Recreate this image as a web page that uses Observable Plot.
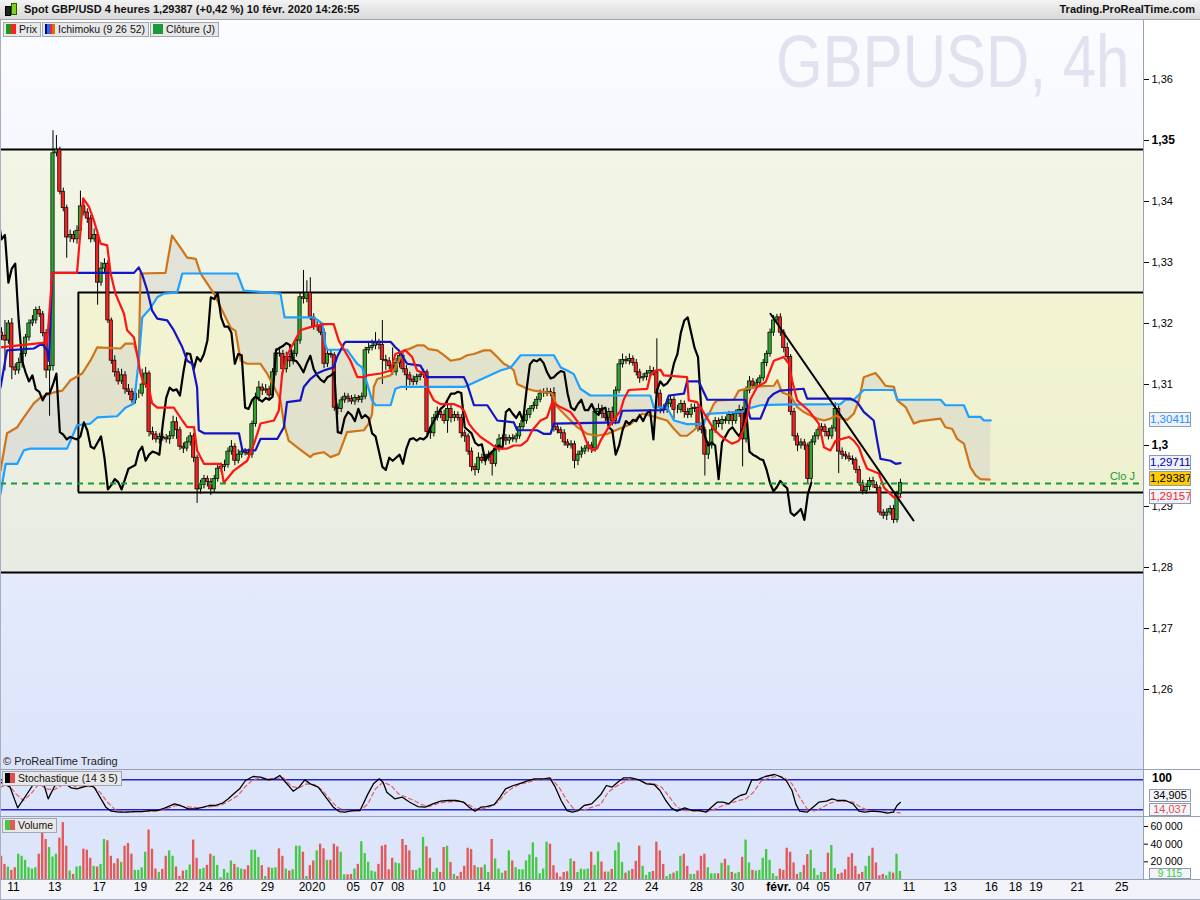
<!DOCTYPE html>
<html><head><meta charset="utf-8">
<script src="https://cdn.jsdelivr.net/npm/d3@7"></script>
<script src="https://cdn.jsdelivr.net/npm/@observablehq/plot@0.6"></script>
<style>
body{margin:0;background:#fff;font-family:"Liberation Sans",Arial,sans-serif;}
#root{position:relative;width:1200px;height:900px;overflow:hidden;}
#root svg{position:absolute;left:0;}
</style></head><body><div id="root"></div>
<script>
// ---------- DATA ----------
const firstOpen = 1.3185;
const closes = [
1.3180,1.3172,1.3200,1.3128,1.3123,1.3135,1.3150,1.3177,1.3200,1.3205,
1.3222,1.3215,1.3184,1.3123,1.3130,1.3479,1.3485,1.3416,1.3389,1.3341,
1.3345,1.3338,1.3352,1.3392,1.3382,1.3372,1.3338,1.3345,1.3267,1.3290,
1.3298,1.3205,1.3139,1.3120,1.3105,1.3115,1.3092,1.3088,1.3074,1.3085,
1.3085,1.3100,1.3118,1.3022,1.3018,1.3010,1.3014,1.3012,1.3010,1.3015,
1.3038,1.3025,1.2998,1.2995,1.3005,1.3015,1.2980,1.2928,1.2935,1.2945,
1.2940,1.2928,1.2945,1.2962,1.2965,1.2968,1.2990,1.2998,1.2975,1.2985,
1.2990,1.2988,1.2985,1.3035,1.3078,1.3095,1.3090,1.3092,1.3082,1.3120,
1.3151,1.3150,1.3125,1.3145,1.3138,1.3150,1.3172,1.3243,1.3240,1.3250,
1.3210,1.3195,1.3195,1.3185,1.3134,1.3150,1.3148,1.3062,1.3060,1.3074,
1.3080,1.3076,1.3072,1.3078,1.3075,1.3080,1.3156,1.3160,1.3163,1.3168,
1.3165,1.3140,1.3138,1.3130,1.3120,1.3135,1.3147,1.3125,1.3115,1.3108,
1.3104,1.3112,1.3115,1.3120,1.3022,1.3020,1.3045,1.3055,1.3050,1.3040,
1.3060,1.3045,1.3050,1.3045,1.3020,1.3015,1.2990,1.2965,1.2960,1.2980,
1.2975,1.2980,1.2985,1.2970,1.2995,1.3010,1.3012,1.3008,1.3012,1.3010,
1.3015,1.3030,1.3040,1.3050,1.3060,1.3065,1.3075,1.3085,1.3085,1.3088,
1.3086,1.3030,1.3025,1.3020,1.3005,1.3000,1.3002,1.2975,1.2985,1.2990,
1.2995,1.3000,1.2995,1.3055,1.3060,1.3052,1.3045,1.3055,1.3040,1.3090,
1.3133,1.3140,1.3138,1.3142,1.3135,1.3120,1.3110,1.3112,1.3118,1.3122,
1.3120,1.3085,1.3062,1.3058,1.3068,1.3075,1.3058,1.3058,1.3068,1.3055,
1.3050,1.3060,1.3062,1.3030,1.3025,1.2985,1.3000,1.3025,1.3040,1.3035,
1.3042,1.3040,1.3050,1.3040,1.3052,1.3058,1.3010,1.3090,1.3105,1.3098,
1.3102,1.3110,1.3135,1.3150,1.3185,1.3205,1.3210,1.3185,1.3160,1.3145,
1.3055,1.3015,1.3000,1.3005,1.3000,1.2945,1.3005,1.3015,1.3025,1.3030,
1.3022,1.3015,1.3028,1.3060,1.2990,1.2985,1.2982,1.2978,1.2976,1.2960,
1.2938,1.2925,1.2932,1.2942,1.2935,1.2930,1.2890,1.2885,1.2890,1.2896,
1.2878,1.2920,1.29387];
// wick lengths above / below the body, in pips
const wickUp = [
8,25,5,8,6,8,6,5,6,8, 5,6,5,6,8,37,23,4,6,5, 8,6,8,25,8,6,5,10,8,10,
8,5,4,8,6,10,6,8,5,8, 6,25,10,4,8,5,6,5,6,8, 10,8,5,6,8,6,5,4,8,6,
5,6,6,8,6,8,6,10,5,8, 6,5,6,5,8,10,6,8,5,6, 8,10,6,8,5,6,5,7,44,20,
25,6,8,5,6,8,6,4,6,5, 6,5,6,5,4,6,5,8,10,17, 6,40,8,6,30,8,6,5,6,5,
6,5,6,5,4,8,6,8,6,8, 15,8,6,5,6,5,4,6,5,8, 6,5,6,5,6,8,5,6,5,6,
5,6,5,8,5,6,5,6,8,6, 5,9,6,5,6,5,6,5,6,8, 5,6,5,6,8,6,5,6,8,6,
8,10,6,8,5,6,5,6,5,8, 6,55,6,5,8,6,5,8,6,5, 6,8,6,5,6,5,6,8,6,5,
6,5,6,5,6,8,5,6,8,5, 6,5,6,5,6,8,5,6,5,8, 4,6,5,6,5,4,5,6,5,6,
5,6,5,10,5,6,5,6,5,4, 6,5,6,5,6,5,4,5,6,5, 6,5,6];
const wickDn = [
8,50,6,20,8,6,8,5,6,5, 6,5,6,13,75,8,6,5,6,34, 8,6,8,5,6,8,6,5,37,6,
8,5,6,8,6,5,8,6,5,6, 8,5,6,8,10,6,8,5,6,8, 5,15,6,8,5,6,8,23,8,6,
8,10,6,5,6,8,5,6,8,5, 6,5,8,6,5,6,8,5,6,5, 6,5,8,6,10,6,5,6,8,6,
5,6,8,5,8,6,5,6,10,6, 5,6,5,6,5,6,5,6,5,6, 8,40,15,6,5,6,8,6,25,10,
6,5,6,5,8,10,6,5,6,5, 20,8,6,5,8,10,6,8,10,6, 5,8,6,20,5,6,5,8,6,5,
6,5,6,5,6,5,6,5,6,5, 6,8,6,10,6,5,6,13,8,6, 5,6,8,6,5,8,6,5,8,6,
5,6,5,6,5,6,8,5,6,5, 6,8,10,6,5,6,15,6,5,10, 6,5,6,8,6,35,8,6,5,6,
10,5,6,8,5,6,45,6,5,6, 8,6,5,6,5,6,5,6,8,5, 6,8,10,6,8,7,6,5,6,5,
8,6,5,6,36,8,6,5,8,6, 5,6,5,6,5,6,5,6,8,5, 6,5,6];
const volumes = [
26300,17100,14100,10300,13300,28600,26300,21700,13300,11800,
13300,28600,54100,45300,36200,25500,28600,46900,64400,37700,
9500,5700,14100,14900,34300,33100,24000,14900,14100,17100,
45300,43800,26300,17900,23200,19400,37700,40800,28600,10300,
10300,13300,30900,56000,34300,11800,8000,11400,26300,32400,
26300,14100,3400,9500,10300,16400,44600,24000,11400,12600,
16000,28600,26300,16000,1900,11400,7200,21000,17100,13300,
11800,11000,15600,33100,33100,24800,15600,3400,13300,12600,
13300,34700,26300,11800,9500,11000,37700,37700,30900,3400,
15600,21000,32400,40000,34700,21700,21700,40000,37000,30900,
5300,5300,5700,11800,17100,42700,29300,19400,9500,8400,
17100,37700,38900,11000,24000,18700,17900,45300,38500,32400,
10300,10300,12600,47600,37000,24000,8000,12600,8000,36200,
37700,19400,5700,3400,8000,14900,35400,33900,15600,13300,
13300,16400,8000,45300,23200,11800,7200,9500,32400,21000,
13300,11000,11000,21000,27800,41500,24800,6500,11800,42300,
40000,15600,7200,2700,8000,8800,23200,20200,8000,11800,
11000,11800,30900,16000,
31200,19800,8400,8400,11400,32400,41500,19400,7200,9500,
11400,20600,37700,14900,4600,8000,9100,42300,32400,17100,
3400,5700,7200,9100,26300,28600,14900,5700,5700,9500,
26300,28600,13300,6500,6500,6500,18300,22900,15600,8000,
6500,8000,25100,44600,18700,10300,9500,10300,24000,33900,
21700,6500,3400,11800,10300,35400,30900,18700,5700,8000,
16000,28200,33100,12200,4600,8000,8000,29700,38500,12200,
5700,7200,11000,25100,29300,14900,5700,8000,14900,26300,
35400,18700,4200,5700,4200,8400,7200,28600,9115];
// Ichimoku lines: [bar, price]
const tenkan = [[-0.3,1.3161],[13.3,1.3169],[14.8,1.3283],[22,1.3283],[23.8,1.3405],[25.5,1.3391],[26.9,1.3369],[28.9,1.3331],[30.8,1.3328],[31.8,1.3282],[33.2,1.3249],[35.7,1.3216],[36.6,1.3189],[38.6,1.3177],[39.5,1.3151],[40.5,1.3118],[41.5,1.3102],[42.9,1.3095],[43.9,1.3069],[45.4,1.3062],[50.2,1.3062],[52.7,1.3041],[54.1,1.3030],[56.1,1.3030],[57,1.2992],[59,1.2970],[63.8,1.2970],[64.8,1.2939],[67.7,1.2959],[71.6,1.2975],[73.6,1.3003],[75.5,1.3036],[79.4,1.3041],[80.8,1.3057],[81.8,1.3118],[83.2,1.3148],[87.1,1.3189],[90,1.3194],[93.9,1.3199],[96.8,1.3199],[98.3,1.3172],[101.7,1.3139],[103.7,1.3112],[105.6,1.3112],[106.6,1.3115],[110.5,1.3118],[113.4,1.3123],[114.8,1.3150],[117.7,1.3156],[119.7,1.3145],[121.1,1.3123],[123.1,1.3118],[124.5,1.3090],[126,1.3074],[127.9,1.3068],[131.8,1.3068],[133.8,1.3063],[134.8,1.3057],[136.2,1.3036],[137.7,1.3025],[139.6,1.3014],[142.5,1.3003],[144.5,1.2995],[147.4,1.2995],[149.3,1.3000],[151.3,1.3000],[153.2,1.3008],[154.7,1.3025],[157.1,1.3041],[159,1.3046],[160.5,1.3071],[162.9,1.3063],[165.8,1.3055],[168.7,1.3033],[170.7,1.3003],[172.1,1.2992],[173.6,1.2995],[174.6,1.3008],[177.5,1.3035],[180.4,1.3057],[181.4,1.3076],[182.8,1.3091],[188.2,1.3093],[189.1,1.3115],[190.6,1.3123],[192.1,1.3124],[193,1.3115],[199.8,1.3112],[200.3,1.3074],[202.7,1.3071],[203.7,1.3063],[205.7,1.3044],[207.6,1.3027],[209.5,1.3016],[211.5,1.3008],[212.9,1.3003],[214.9,1.3008],[216.3,1.3027],[217.3,1.3046],[218.3,1.3076],[220.2,1.3096],[222.7,1.3104],[225.1,1.3139],[228,1.3145],[229.5,1.3134],[230.4,1.3107],[231.9,1.3074],[235.3,1.3057],[238.2,1.3036],[239.7,1.2997],[241.6,1.2992],[243.1,1.3008],[247,1.3014],[248.4,1.3008],[249.9,1.2997],[251.3,1.2975],[252.3,1.2962],[255.7,1.2954],[257.2,1.2931],[260.1,1.2915],[262,1.29157]];
const kijun = [[-0.3,1.3095],[1.6,1.3156],[9.4,1.3159],[11.8,1.3167],[13.3,1.3156],[13.8,1.3139],[14.8,1.3283],[38.6,1.3283],[40,1.3292],[41,1.3280],[42.5,1.3254],[43.9,1.3221],[45.4,1.3208],[48.3,1.3205],[50.2,1.3189],[52.7,1.3161],[54.1,1.3139],[55.6,1.3134],[57,1.3095],[57.5,1.3025],[59,1.3020],[69.2,1.3020],[70.2,1.2992],[74,1.2992],[75.5,1.3011],[80.4,1.3011],[82.3,1.3030],[83.2,1.3071],[87.1,1.3074],[88.1,1.3096],[90,1.3109],[92,1.3118],[93.9,1.3123],[96.8,1.3128],[97.8,1.3145],[99.8,1.3167],[100.3,1.3170],[113.4,1.3170],[114.8,1.3161],[115.8,1.3156],[118.2,1.3134],[122.1,1.3131],[124,1.3112],[134.8,1.3112],[135.7,1.3101],[137.7,1.3066],[141.6,1.3066],[144.5,1.3041],[149.3,1.3038],[150.3,1.3025],[156.1,1.3025],[158.1,1.3019],[160,1.3019],[161,1.3036],[179.9,1.3038],[180.9,1.3057],[193,1.3058],[194.5,1.3082],[198.9,1.3085],[199.8,1.3105],[203.2,1.3105],[205.7,1.3075],[216.8,1.3075],[218.3,1.3044],[221.2,1.3044],[223.6,1.3077],[225.1,1.3085],[227,1.3090],[233.8,1.3093],[234.8,1.3077],[247.4,1.3077],[249.4,1.3071],[251.3,1.3055],[254.2,1.3041],[255.2,1.3008],[256.2,1.2978],[259.1,1.2975],[260.6,1.2970],[262,1.29711]];
const senkouA = [[-0.3,1.2959],[1.6,1.3020],[4.6,1.3030],[6.5,1.3046],[9.4,1.3069],[11.4,1.3079],[15.2,1.3087],[17.7,1.3090],[20.1,1.3107],[23.5,1.3118],[25.9,1.3139],[27.9,1.3161],[34.7,1.3159],[36.1,1.3167],[38.6,1.3167],[40,1.3139],[40.5,1.3282],[47.8,1.3283],[49.7,1.3344],[52.7,1.3320],[54.1,1.3308],[56.6,1.3306],[58,1.3282],[61.9,1.3249],[66.8,1.3193],[68.2,1.3188],[69.7,1.3139],[71.6,1.3134],[75.5,1.3134],[77.4,1.3118],[80.4,1.3085],[81.3,1.3074],[82.3,1.3036],[83.7,1.3008],[86.2,1.2997],[90,1.2981],[91,1.2986],[93.9,1.2989],[95.9,1.2981],[98.3,1.2986],[99.8,1.3008],[100.7,1.3022],[105.6,1.3025],[107,1.3036],[108,1.3052],[108.5,1.3096],[109.5,1.3109],[113.4,1.3115],[114.8,1.3128],[115.8,1.3139],[117.3,1.3156],[118.7,1.3158],[121.1,1.3164],[123.1,1.3164],[124.5,1.3158],[127,1.3156],[128.9,1.3148],[130.9,1.3139],[133.8,1.3142],[135.7,1.3148],[137.7,1.3150],[140.6,1.3156],[142.5,1.3156],[144.5,1.3145],[146.4,1.3134],[148.4,1.3128],[149.3,1.3123],[150.3,1.3101],[153.2,1.3093],[155.2,1.3090],[159,1.3087],[160.5,1.3085],[162,1.3063],[163.9,1.3052],[167.8,1.3030],[170.7,1.3019],[173.6,1.3016],[176.5,1.3019],[179.9,1.3027],[183.3,1.3035],[186.7,1.3052],[189.1,1.3049],[192.1,1.3044],[194,1.3041],[196,1.3027],[197.9,1.3016],[199.8,1.3016],[201.8,1.3025],[203.7,1.3035],[205.7,1.3046],[207.6,1.3068],[208.6,1.3074],[213.4,1.3075],[214.9,1.3090],[220.2,1.3097],[225.1,1.3098],[226.1,1.3107],[227.5,1.3087],[229.9,1.3082],[231.9,1.3063],[233.8,1.3055],[237.7,1.3044],[239.7,1.3041],[241.6,1.3044],[243.1,1.3049],[245,1.3044],[246.5,1.3042],[248.4,1.3052],[249.9,1.3074],[251.3,1.3112],[254.7,1.3119],[256.2,1.3109],[257.6,1.3098],[260.1,1.3096],[261.1,1.3074],[263.5,1.3063],[265.9,1.3036],[267.8,1.3040],[273.7,1.3044],[275.1,1.3030],[277.1,1.3027],[278.5,1.3011],[280.5,1.3003],[282.4,1.2964],[283.9,1.2951],[285.3,1.2945],[288,1.2944]];
const senkouB = [[-0.3,1.2921],[1.2,1.2970],[4.6,1.2970],[6.5,1.2992],[8.4,1.2995],[19.1,1.2995],[22,1.3033],[25.9,1.3036],[27.9,1.3046],[33.7,1.3048],[36.1,1.3062],[38.6,1.3069],[40,1.3139],[41,1.3210],[43.4,1.3225],[45.4,1.3243],[47.3,1.3249],[51.2,1.3251],[52.7,1.3282],[68.7,1.3282],[70.6,1.3254],[81.3,1.3249],[82.5,1.3210],[91,1.3210],[93.5,1.3200],[94.4,1.3165],[94.9,1.3157],[100.7,1.3157],[101.7,1.3149],[103.7,1.3134],[105.1,1.3128],[106.6,1.3101],[108,1.3074],[109,1.3066],[113.4,1.3066],[114.8,1.3093],[116.3,1.3096],[134.8,1.3096],[135.7,1.3098],[145.4,1.3123],[148.4,1.3128],[149.3,1.3134],[151.3,1.3148],[161,1.3148],[163,1.3128],[164.9,1.3123],[166.8,1.3117],[168.7,1.3093],[171.6,1.3082],[189.1,1.3082],[190.1,1.3063],[194,1.3062],[196,1.3041],[199.8,1.3035],[204.7,1.3035],[205.7,1.3052],[215.9,1.3055],[217.3,1.3060],[221.2,1.3066],[227,1.3067],[244.5,1.3068],[246,1.3075],[248.4,1.3075],[251.3,1.3091],[260.1,1.3091],[261.1,1.3075],[273.7,1.3075],[275.1,1.3066],[280.5,1.3066],[281.9,1.3047],[285.3,1.3047],[286.3,1.3041],[288.3,1.30411]];
const chikouShift = 26;
// Stochastic (14 3 5): [bar, value]
const stochK = [[-0.3,75.2],[2.5,65.2],[4.7,23.9],[8.1,58.6],[10.3,81.9],[12,78.6],[13.6,41.9],[15.3,65.2],[16.4,75.2],[18.7,71.9],[20.3,63.9],[22,61.9],[23.7,65.2],[25.4,68.6],[27,65.2],[28.7,45.2],[30.4,25.2],[32,17.2],[34.3,15.2],[36.5,15.2],[38.7,16.5],[41,16.5],[43.2,18.5],[45.4,18.5],[47.7,23.9],[50.4,31.9],[52.1,28.6],[54.4,21.9],[56.6,21.9],[58.8,25.2],[60.5,28.6],[62.2,28.6],[64.4,33.2],[66.1,41.9],[67.7,51.9],[69.4,61.9],[71.1,78.6],[73.3,86.6],[75.5,85.2],[77.8,79.9],[79.5,81.9],[81.1,88.6],[82.8,75.2],[85,57.2],[86.7,65.2],[88.4,79.9],[90,71.9],[92.3,65.2],[94.5,45.2],[96.7,25.2],[98.4,16.5],[100.1,15.2],[102.3,18.5],[104.5,18.5],[106.8,51.9],[108.4,71.9],[110.1,81.9],[111.2,75.2],[112.3,55.2],[114.6,41.9],[116.8,45.2],[119,35.2],[121.3,26.5],[123.5,25.2],[125.7,31.9],[128,37.2],[130.2,38.6],[132.4,38.6],[134.7,35.2],[136.3,25.2],[138,17.2],[139.7,25.2],[141.3,26.5],[143.6,30.5],[145.3,45.2],[146.9,61.9],[149.2,68.6],[150.8,71.9],[153.1,77.2],[155.3,81.9],[158.1,81.9],[159.8,83.9],[161.4,65.2],[163.1,38.6],[164.8,18.5],[166.4,15.2],[168.1,18.5],[169.8,28.6],[172,31.9],[174.6,50],[176.3,68.6],[177.9,65.2],[179.6,75.2],[181.3,83.9],[183.5,83.9],[185.8,79.9],[188,71.9],[190.2,70.6],[191.9,58.6],[193.6,38.6],[195.2,23.9],[196.9,17.2],[199.1,23.9],[201.4,18.5],[203.6,18.5],[205.3,15.2],[206.9,25.2],[208.6,35.2],[210.3,35.2],[212,31.9],[213.6,41.9],[215.3,48.6],[217,51.9],[218.7,79.9],[220.3,79.9],[222.6,86.6],[225.3,90.6],[227,86.6],[228.7,78.6],[230.4,58.6],[231.5,31.9],[232.6,17.2],[234.8,15.2],[236.5,25.2],[238.2,35.2],[240.4,37.2],[242.1,41.9],[243.7,38.6],[246,38.6],[248.2,31.9],[249.9,17.2],[251.6,15.2],[253.8,17.2],[256,16.5],[258.2,13.2],[259.9,15.2],[261,28.6],[262,34.905]];
const stochD = [[-0.3,65.2],[1.9,71.9],[4.2,51.9],[6.4,38.6],[8.6,51.9],[10.9,71.9],[13.1,61.9],[15.3,59.9],[17.5,68.6],[19.8,71.9],[22,65.2],[26.5,66.6],[28.7,55.2],[30.9,35.2],[33.2,19.9],[35.4,15.2],[39.9,16.5],[44.3,17.2],[46.5,19.9],[48.8,23.9],[51,28.6],[53.2,26.5],[57.7,23.9],[62.2,27.2],[64.4,30.5],[66.6,38.6],[68.9,48.6],[71.1,66.6],[73.3,79.9],[75.5,83.9],[77.8,81.9],[82.2,83.9],[84.5,66.6],[86.7,63.9],[88.9,71.9],[91.2,70.6],[93.4,59.9],[95.6,41.9],[97.8,25.2],[100.1,18.5],[102.3,17.2],[104.5,18.5],[106.8,31.9],[109,61.9],[111.2,75.2],[113.5,68.6],[115.7,51.9],[117.9,45.2],[120.2,38.6],[122.4,30.5],[124.6,26.5],[126.9,31.9],[129.1,35.2],[133.5,37.2],[135.8,31.9],[138,21.9],[140.2,21.9],[142.5,26.5],[144.7,35.2],[146.9,53.2],[149.2,65.2],[151.4,71.9],[153.6,75.2],[155.8,79.9],[160.3,81.9],[162.5,65.2],[164.8,38.6],[167,19.9],[169.2,18.5],[171.5,23.9],[174.6,30.5],[176.8,55.2],[179.1,66.6],[181.3,75.2],[183.5,81.9],[185.8,79.9],[188,73.2],[190.2,71.9],[192.4,65.2],[194.7,45.2],[196.9,25.2],[199.1,18.5],[203.6,17.2],[205.8,16.5],[208.1,21.9],[210.3,28.6],[212.5,33.2],[214.8,38.6],[217,41.9],[219.2,55.2],[221.4,77.2],[223.7,83.9],[225.9,86.6],[228.1,85.2],[230.4,71.9],[232.6,45.2],[234.8,21.9],[237.1,17.2],[239.3,25.2],[241.5,33.2],[243.7,37.2],[246,37.2],[248.2,35.2],[250.4,25.2],[252.7,18.5],[254.9,16.5],[259.4,15.2],[262,14.037]];
const stochLevels = [80, 20];
// drawn objects
const zoneTop = 1.34852, zoneBottom = 1.27918;
const boxTop = 1.32508, boxBottom = 1.2923, boxStart = 22.4;
const closeJ = 1.29377;
const trendLine = [[224.1, 1.3216], [265.8, 1.2877]];
// axes
const priceTicks = [1.36, 1.34, 1.33, 1.32, 1.31, 1.29, 1.28, 1.27, 1.26];
const priceTicksBold = [1.35, 1.30];
const volumeTicks = [20000, 40000, 60000];
const xTickPos = [3.5,15.5,28.5,40.5,52.5,59.5,65.5,77.5,90.5,102.5,109.5,115.5,127.5,140.5,152.5,164.5,171.5,177.5,189.5,202.5,214.5,226.5,233.5,239.5,251.5,264.5,276.5,288.5,295.5,301.5,313.5,326.5];
const xTickLabel = ["11","13","17","19","22","24","26","29","2020","05","07","08","10","14","16","19","21","22","24","28","30","févr.","04","05","07","11","13","16","18","19","21","25"];
const lastSenkouB = 1.30411, lastKijun = 1.29711, lastClose = 1.29387, lastTenkan = 1.29157;
const lastK = 34.905, lastD = 14.037, lastVolume = 9115;

// ---------- LAYOUT ----------
const root = document.getElementById("root");
function box(css, html) {
  const d = document.createElement("div");
  d.style.cssText = "position:absolute;" + css;
  if (html != null) d.innerHTML = html;
  root.appendChild(d);
  return d;
}
const FONT = "'Liberation Sans',Arial,sans-serif";
const xDomain = [-0.3, 332.84];
const W = 1200, MR = 57;
const GREEN = "#2fa32f", RED = "#f22020";

// backgrounds
box("left:0;top:20px;width:1143px;height:749px;background:linear-gradient(#fbfcff,#dce4fb)");
box("left:1143px;top:20px;width:57px;height:860px;background:#fff");
box("left:0;top:769px;width:1143px;height:110px;background:#dde5fa");
box("left:0;top:879px;width:1200px;height:21px;background:#f2f4f9");
// watermark
box(`left:776px;top:24px;font:75px ${FONT};line-height:75px;color:#e0e3ef;white-space:nowrap;transform:scaleX(0.8);transform-origin:0 0`, "GBPUSD, 4h");

const bars = closes.map((c, i) => {
  const o = i === 0 ? firstOpen : closes[i - 1];
  return {i, o, c, h: Math.max(o, c) + wickUp[i] / 1e4, l: Math.min(o, c) - wickDn[i] / 1e4, up: c >= o, v: volumes[i]};
});
const cloud = [...senkouA, ...senkouB.slice().reverse()];
const fmtP = d => String(+d.toFixed(2)).replace(".", ",");
const fmt5 = d => d.toFixed(5).replace(".", ",");

const main = Plot.plot({
  width: W, height: 749, marginLeft: 0, marginRight: MR, marginTop: 0, marginBottom: 0,
  x: {domain: xDomain, axis: null},
  y: {domain: [1.24689, 1.36967], label: null},
  style: {background: "none", fontFamily: FONT, overflow: "visible"},
  marks: [
    Plot.rect([zoneTop], {x1: () => xDomain[0], x2: () => xDomain[1], y1: () => zoneBottom, y2: d => d, fill: "rgb(240,240,160)", fillOpacity: 0.27}),
    Plot.rect([boxTop], {x1: () => boxStart, x2: () => xDomain[1], y1: () => boxBottom, y2: d => d, fill: "rgb(250,248,170)", fillOpacity: 0.3}),
    Plot.line(cloud, {x: d => d[0], y: d => d[1], stroke: "none", fill: "#c4c2c0", fillOpacity: 0.32, clip: true}),
    Plot.ruleY([zoneTop, zoneBottom], {stroke: "#000", strokeWidth: 2}),
    Plot.ruleY([boxTop, boxBottom], {x1: () => boxStart, x2: () => xDomain[1], stroke: "#000", strokeWidth: 2}),
    Plot.ruleX([boxStart], {y1: () => boxBottom, y2: () => boxTop, stroke: "#000", strokeWidth: 2}),
    Plot.ruleX(bars, {x: "i", y1: "l", y2: "h", stroke: "#000", strokeWidth: 1}),
    Plot.rect(bars, {x1: d => d.i - 0.48, x2: d => d.i + 0.48, y1: "o", y2: "c", fill: d => d.up ? GREEN : RED, stroke: "#000", strokeWidth: 0.7}),
    Plot.line(senkouA, {x: d => d[0], y: d => d[1], stroke: "#d0741a", strokeWidth: 2.2, clip: true}),
    Plot.line(senkouB, {x: d => d[0], y: d => d[1], stroke: "#1ea0ff", strokeWidth: 2.2, clip: true}),
    Plot.line(closes, {x: (d, i) => i - chikouShift, y: d => d, stroke: "#000", strokeWidth: 2.2, clip: true}),
    Plot.line(kijun, {x: d => d[0], y: d => d[1], stroke: "#1414c4", strokeWidth: 2.2, clip: true}),
    Plot.line(tenkan, {x: d => d[0], y: d => d[1], stroke: "#ff1414", strokeWidth: 2.2, clip: true}),
    Plot.ruleY([closeJ], {stroke: "#1a9a30", strokeWidth: 2, strokeDasharray: "6,5"}),
    Plot.line(trendLine, {x: d => d[0], y: d => d[1], stroke: "#000", strokeWidth: 2}),
    Plot.text(["Clo J"], {x: () => 326.7, y: () => closeJ, dy: -7, fill: "#1a9a30", fontSize: 11}),
    Plot.axisY(priceTicks, {anchor: "right", label: null, tickFormat: fmtP, tickSize: 5, tickPadding: 3, fontSize: 11}),
    Plot.axisY(priceTicksBold, {anchor: "right", label: null, tickFormat: fmtP, tickSize: 5, tickPadding: 3, fontSize: 12, fontWeight: "bold"})
  ]
});
main.style.top = "20px";
root.appendChild(main);

const stoch = Plot.plot({
  width: W, height: 47, marginLeft: 0, marginRight: MR, marginTop: 0, marginBottom: 0,
  x: {domain: xDomain, axis: null},
  y: {domain: [6.6, 100.6], axis: null},
  style: {background: "none", fontFamily: FONT},
  marks: [
    Plot.ruleY(stochLevels, {stroke: "#2323cf", strokeWidth: 1.4}),
    Plot.line(stochD, {x: d => d[0], y: d => d[1], stroke: "#e46060", strokeWidth: 1.2, strokeDasharray: "4,3", clip: true}),
    Plot.line(stochK, {x: d => d[0], y: d => d[1], stroke: "#000", strokeWidth: 1.3, clip: true})
  ]
});
stoch.style.top = "769px";
root.appendChild(stoch);

const xNormal = xTickPos.map((p, k) => ({p, t: xTickLabel[k]})).filter(d => !isNaN(+d.t));
const xBold = xTickPos.map((p, k) => ({p, t: xTickLabel[k]})).filter(d => isNaN(+d.t));
const vol = Plot.plot({
  width: W, height: 84, marginLeft: 0, marginRight: MR, marginTop: 0, marginBottom: 21,
  x: {domain: xDomain, axis: null},
  y: {domain: [0, 71300], label: null},
  style: {background: "none", fontFamily: FONT, overflow: "visible"},
  marks: [
    Plot.rect(bars, {x1: d => d.i - 0.34, x2: d => d.i + 0.34, y1: () => 0, y2: "v", fill: d => d.up ? "#46c846" : "#e35858"}),
    Plot.axisY(volumeTicks, {anchor: "right", label: null, tickFormat: d => d3.format(",")(d).replace(",", " "), tickSize: 4, tickPadding: 3, fontSize: 10.5}),
    Plot.text(xNormal, {x: "p", text: "t", frameAnchor: "bottom", dy: 11, fontSize: 12, fill: "#000"}),
    Plot.text(xBold, {x: "p", text: "t", frameAnchor: "bottom", dy: 11, fontSize: 12, fontWeight: "bold", fill: "#000"})
  ]
});
vol.style.top = "816px";
root.appendChild(vol);

// separators
box("left:1143px;top:20px;width:1px;height:860px;background:#98a2b4");
box("left:0;top:20px;width:1px;height:880px;background:#a8b0c0");
box("left:0;top:769px;width:1200px;height:1px;background:#98a2b4");
box("left:0;top:816px;width:1200px;height:1px;background:#98a2b4");
box("left:0;top:879px;width:1200px;height:1px;background:#98a2b4");
box("left:0;top:899px;width:1200px;height:1px;background:#a8b0c0");

// header
box("left:0;top:0;width:1200px;height:20px;background:linear-gradient(#f3f3f3,#d9d9d9);border-bottom:1px solid #a5a5a5;box-sizing:border-box");
box("left:5px;top:6px;width:4px;height:8px;background:#222;border:1px solid #000");
box("left:11px;top:3px;width:4px;height:10px;background:#7ed321;border:1px solid #2a5a00");
box(`left:24px;top:3px;font:bold 11px ${FONT};color:#111;white-space:nowrap`, "Spot GBP/USD 4 heures 1,29387 (+0,42 %) 10 févr. 2020 14:26:55");
box(`right:5px;top:3px;font:bold 11px ${FONT};color:#111;white-space:nowrap`, "Trading.ProRealTime.com");

// legend boxes (auto width)
function legend(left, top, icon, label) {
  const b = box(`left:${left}px;top:${top}px;height:15px;background:#e8e8e8;border:1px solid #a2a6ae;box-sizing:border-box;font:10.5px ${FONT};line-height:13px;color:#111;white-space:nowrap;padding:0 3px 0 15px`, label);
  box(`left:${left + 3}px;top:${top + 2}px;width:10px;height:10px;background:${icon}`);
  return left + b.getBoundingClientRect().width;
}
let lx = legend(3, 22, "linear-gradient(90deg,#1a9a1a 50%,#ff2020 50%)", "Prix");
lx = legend(lx + 1, 22, "linear-gradient(90deg,#000080 25%,#1e6cff 25%,#1e6cff 50%,#ff2020 50%,#ff2020 75%,#d07010 75%)", "Ichimoku (9 26 52)");
legend(lx + 1, 22, "#1a9a3a", "Clôture (J)");
box(`left:3px;top:755px;font:11px ${FONT};color:#222;white-space:nowrap`, "© ProRealTime Trading");
legend(2, 771, "linear-gradient(90deg,#000 50%,#e05050 50%)", "Stochastique (14 3 5)");
legend(2, 818, "linear-gradient(90deg,#46c846 50%,#e35858 50%)", "Volume");

// value boxes on the right axis
const ys = main.scale("y");
function vbox(top, h, color, bg, text, fs) {
  box(`left:1149px;top:${top}px;width:42px;height:${h}px;box-sizing:border-box;border:1px solid #8d9ab0;background:${bg};color:${color};font:${fs}px ${FONT};text-align:center;line-height:${h - 2}px;overflow:hidden`, text);
}
vbox(20 + ys.apply(lastSenkouB) - 7.5, 15, "#1e90ff", "#eef2fb", fmt5(lastSenkouB), 11.5);
vbox(20 + ys.apply(lastKijun) - 7.5, 15, "#0000a8", "#eef2fb", fmt5(lastKijun), 11.5);
vbox(20 + ys.apply(lastClose) - 11, 15, "#000", "#ffcc00", fmt5(lastClose), 11.5);
vbox(20 + ys.apply(lastTenkan) - 7.5, 15, "#ff1a1a", "#eef2fb", fmt5(lastTenkan), 11.5);

const ss = stoch.scale("y");
box(`left:1152px;top:771px;font:bold 12px ${FONT};color:#000`, "100");
const dTop = Math.min(769 + ss.apply(lastD) - 6.5, 816 - 13);
const kTop = Math.min(769 + ss.apply(lastK) - 6.5, dTop - 14);
vbox(kTop, 13, "#000", "#f2f4fa", lastK.toFixed(3).replace(".", ","), 11);
vbox(dTop, 13, "#e05050", "#f2f4fa", lastD.toFixed(3).replace(".", ","), 11);
const vs = vol.scale("y");
vbox(Math.max(816 + vs.apply(lastVolume) - 5, 868), 11, "#3cc83c", "#f2f4fa", d3.format(",")(lastVolume).replace(",", " "), 10);
</script></body></html>
